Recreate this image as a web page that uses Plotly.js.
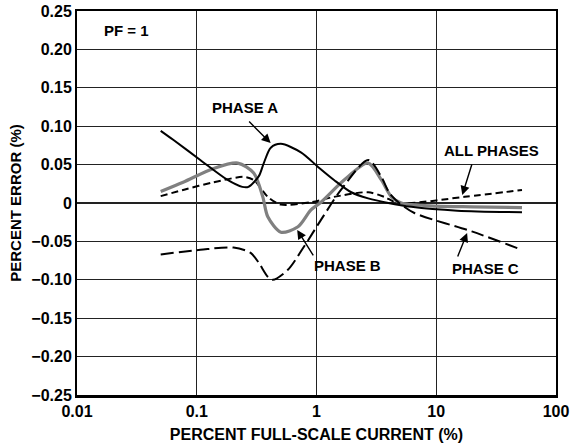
<!DOCTYPE html>
<html>
<head>
<meta charset="utf-8">
<script src="https://cdn.plot.ly/plotly-3.0.1.min.js"></script>
<style>
  html, body { margin: 0; padding: 0; background: #fff; }
  #chart { width: 570px; height: 446px; }
</style>
</head>
<body>
<div id="chart"></div>
<script>
// percent full-scale current (%) vs percent error (%)
const phaseAX = [0.05, 0.064, 0.107, 0.181, 0.24, 0.27, 0.33, 0.363, 0.415, 0.504, 0.741, 1.03, 1.4, 1.95, 2.7, 3.98, 6.2, 15, 52];
const phaseAY = [0.094, 0.082, 0.056, 0.03, 0.021, 0.021, 0.035, 0.052, 0.072, 0.077, 0.066, 0.047, 0.03, 0.014, 0.006, 0.0, -0.005, -0.01, -0.012];

const phaseBX = [0.05, 0.077, 0.138, 0.22, 0.299, 0.356, 0.392, 0.504, 0.7, 0.899, 1.09, 1.7, 2.7, 3.48, 4.22, 5.11, 10, 20, 52];
const phaseBY = [0.015, 0.027, 0.045, 0.052, 0.039, 0.008, -0.018, -0.038, -0.031, -0.009, 0.001, 0.03, 0.052, 0.03, 0.008, 0.0, -0.004, -0.005, -0.006];

const phaseCX = [0.05, 0.107, 0.203, 0.282, 0.33, 0.392, 0.432, 0.577, 0.785, 1.09, 1.6, 2.7, 3.48, 4.06, 4.82, 6.57, 19.8, 52];
const phaseCY = [-0.067, -0.061, -0.058, -0.065, -0.078, -0.096, -0.1, -0.087, -0.057, -0.022, 0.017, 0.056, 0.034, 0.013, 0.001, -0.013, -0.037, -0.061];

const allX = [0.05, 0.077, 0.138, 0.247, 0.299, 0.392, 0.504, 0.899, 1.4, 2.7, 3.68, 4.82, 17.3, 52];
const allY = [0.009, 0.017, 0.027, 0.034, 0.03, 0.008, -0.002, 0.001, 0.008, 0.014, 0.008, 0.0, 0.008, 0.017];

const yTicks = [0.25, 0.20, 0.15, 0.10, 0.05, 0, -0.05, -0.10, -0.15, -0.20, -0.25];
const yLabels = ['0.25', '0.20', '0.15', '0.10', '0.05', '0', '\u22120.05', '\u22120.10', '\u22120.15', '\u22120.20', '\u22120.25'];
const xTicks = [0.01, 0.1, 1, 10, 100];
const xLabels = ['0.01', '0.1', '1', '10', '100'];

const font = 'Liberation Sans, Arial, sans-serif';
const lg = Math.log10;

const traces = [
  { x: allX, y: allY, mode: 'lines', line: { color: '#000', width: 2, dash: '7px,4px', shape: 'spline', smoothing: 0.8 } },
  { x: phaseBX, y: phaseBY, mode: 'lines', line: { color: '#808080', width: 3.2, shape: 'spline', smoothing: 0.8 } },
  { x: phaseCX, y: phaseCY, mode: 'lines', line: { color: '#000', width: 2, dash: '13px,5px', shape: 'spline', smoothing: 0.8 } },
  { x: phaseAX, y: phaseAY, mode: 'lines', line: { color: '#000', width: 2, shape: 'spline', smoothing: 0.8 } },
];

const label = (x, y, text) => ({
  x: lg(x), y: y, xref: 'x', yref: 'y', text: text, showarrow: false,
  font: { family: font, size: 15, color: '#000', weight: 'bold' },
});
const arrow = (x, y, ax, ay) => ({
  x: lg(x), y: y, xref: 'x', yref: 'y', text: '', showarrow: true,
  ax: ax, ay: ay, arrowhead: 2, arrowsize: 1.3, arrowwidth: 1.4, arrowcolor: '#000',
});

const layout = {
  width: 570, height: 446,
  margin: { l: 77, r: 14, t: 11, b: 51 },
  paper_bgcolor: '#fff', plot_bgcolor: '#fff',
  showlegend: false,
  font: { family: font, size: 16, color: '#000', weight: 'bold' },
  xaxis: {
    type: 'log', range: [-2, 2],
    tickvals: xTicks, ticktext: xLabels, ticks: '',
    ticklabeloverflow: 'allow',
    showgrid: true, gridcolor: '#222', gridwidth: 1.2,
    showline: true, linecolor: '#000', linewidth: 2.5, mirror: true,
    zeroline: false,
    tickfont: { family: font, size: 16, weight: 'bold' },
    title: { text: 'PERCENT FULL-SCALE CURRENT (%)', font: { family: font, size: 16, weight: 'bold' }, standoff: 10 },
  },
  yaxis: {
    range: [-0.25, 0.25],
    tickvals: yTicks, ticktext: yLabels, ticks: '',
    showgrid: true, gridcolor: '#222', gridwidth: 1.2,
    showline: true, linecolor: '#000', linewidth: 2, mirror: true,
    zeroline: false,
    tickfont: { family: font, size: 16, weight: 'bold' },
    title: { text: 'PERCENT ERROR (%)', font: { family: font, size: 15, weight: 'bold' }, standoff: 6 },
  },
  annotations: [
    label(0.026, 0.225, 'PF = 1'),
    label(0.251, 0.124, 'PHASE A'),
    arrow(0.414, 0.078, -23, -23),
    label(1.81, -0.081, 'PHASE B'),
    arrow(0.69, -0.035, 17, 27),
    label(29, 0.068, 'ALL PHASES'),
    arrow(16.5, 0.0104, 10, -32),
    label(26, -0.085, 'PHASE C'),
    arrow(18.1, -0.039, -10, 25),
  ],
};

Plotly.newPlot('chart', traces, layout, { displayModeBar: false, staticPlot: true });
</script>
</body>
</html>
